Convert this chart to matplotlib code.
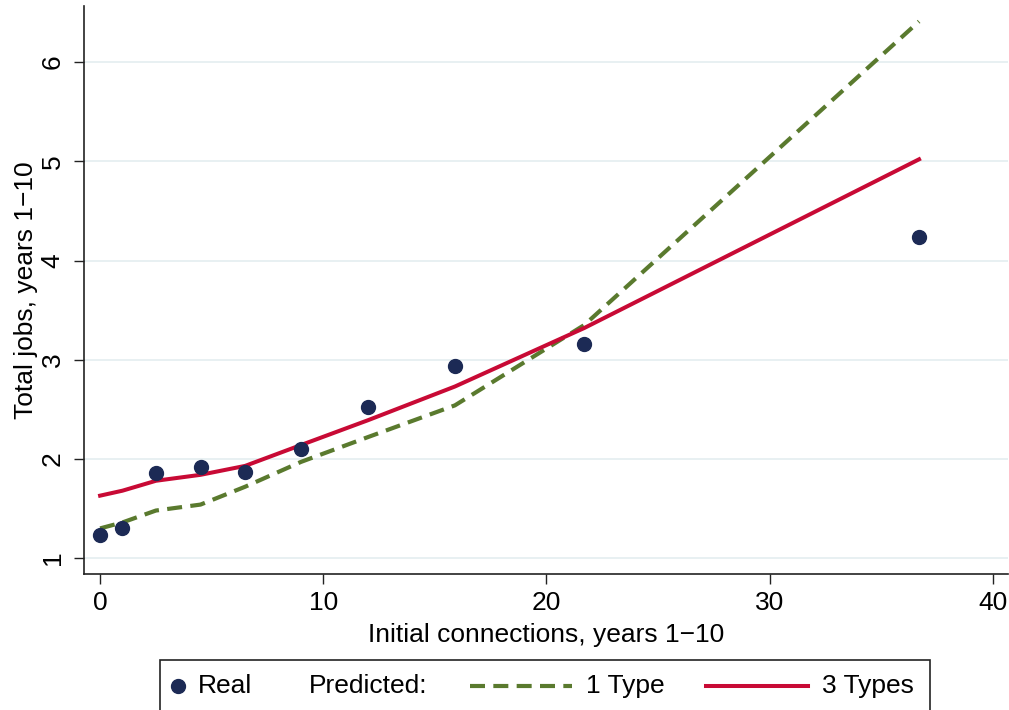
import numpy as np
import matplotlib.pyplot as plt
from matplotlib.lines import Line2D
from matplotlib.patches import Rectangle

plt.rcParams['font.family'] = ['Liberation Sans', 'DejaVu Sans']

# initial connections (x) and total jobs (y)
conn = [0, 1, 2.5, 4.5, 6.5, 9, 12, 15.9, 21.7, 36.7]
real = [1.23, 1.30, 1.86, 1.92, 1.87, 2.10, 2.52, 2.94, 3.16, 4.24]
pred_1type = [1.30, 1.36, 1.48, 1.54, 1.72, 1.97, 2.22, 2.54, 3.35, 6.41]
pred_3types = [1.63, 1.68, 1.78, 1.84, 1.93, 2.14, 2.39, 2.73, 3.32, 5.02]

navy = '#1c2a55'
green = '#5a7a2e'
red = '#c80a35'
fs = 19
dash = (3.6, 2.0)

fig = plt.figure(figsize=(10.09, 7.10), dpi=100)
ax = fig.add_axes([0.0833, 0.1915, 0.916, 0.80])

ax.plot(conn, pred_1type, color=green, lw=3.0, dashes=dash, zorder=2)
ax.plot(conn, pred_3types, color=red, lw=2.9, zorder=3)
ax.plot(conn, real, 'o', color=navy, ms=10, zorder=4)

ax.set_xlim(-0.72, 40.7)
ax.set_ylim(0.84, 6.565)
ax.set_xticks([0, 10, 20, 30, 40])
ax.set_yticks([1, 2, 3, 4, 5, 6])
ax.grid(axis='y', color='#e6eff1', lw=1.3)
ax.set_axisbelow(True)

for s in ['top', 'right']:
    ax.spines[s].set_visible(False)
for s in ['left', 'bottom']:
    ax.spines[s].set_linewidth(1.2)
    ax.spines[s].set_color('#222222')

ax.tick_params(length=7, width=1, color='#222222', labelsize=fs)
ax.tick_params(axis='x', pad=5)
ax.tick_params(axis='y', pad=7)
for lab in ax.get_yticklabels():
    lab.set_rotation(90)
    lab.set_va('center')

ax.set_xlabel('Initial connections, years 1\u221210', fontsize=fs, labelpad=6)
ax.set_ylabel('Total jobs, years 1\u221210', fontsize=fs, labelpad=2)

# legend box drawn in pixel coordinates of the figure
W, H = 1009, 710
def fx(px):
    return px / W
def fy(py):
    return 1 - py / H

fig.add_artist(Rectangle((fx(160), fy(714)), fx(930) - fx(160), fy(660) - fy(714),
                         transform=fig.transFigure, fill=False, lw=1.2, ec='#222222'))
ly = fy(686)
fig.add_artist(Line2D([fx(178)], [ly], marker='o', ms=10, color=navy,
                      transform=fig.transFigure))
fig.text(fx(198), ly, 'Real', fontsize=fs, va='center')
fig.text(fx(309), ly, 'Predicted:', fontsize=fs, va='center')
fig.add_artist(Line2D([fx(470), fx(572)], [ly, ly], color=green, lw=3.0,
                      dashes=dash, transform=fig.transFigure))
fig.text(fx(586), ly, '1 Type', fontsize=fs, va='center')
fig.add_artist(Line2D([fx(706), fx(808)], [ly, ly], color=red, lw=2.9,
                      transform=fig.transFigure))
fig.text(fx(822), ly, '3 Types', fontsize=fs, va='center')

fig.savefig('out.png', dpi=100)
